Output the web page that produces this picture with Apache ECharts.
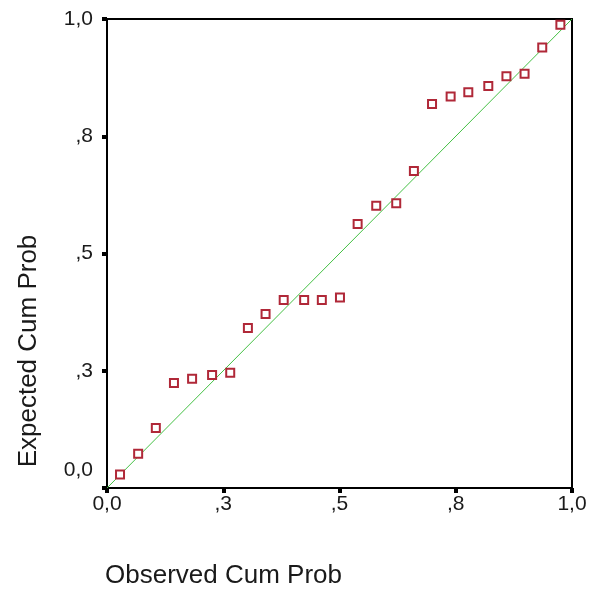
<!DOCTYPE html>
<html>
<head>
<meta charset="utf-8">
<script src="https://cdn.jsdelivr.net/npm/echarts@6/dist/echarts.min.js"></script>
<style>
html,body{margin:0;padding:0;background:#fff;}
#chart{width:590px;height:593px;}
</style>
</head>
<body>
<div id="chart"></div>
<script>
// Observed cumulative probability (x) and expected cumulative probability (y)
var observedCumProb = [0.028, 0.067, 0.105, 0.144, 0.183, 0.226, 0.265, 0.303, 0.341, 0.380, 0.424, 0.462, 0.501,
                       0.539, 0.579, 0.622, 0.660, 0.699, 0.739, 0.777, 0.820, 0.859, 0.898, 0.936, 0.975];
var expectedCumProb = [0.029, 0.073, 0.128, 0.224, 0.233, 0.241, 0.246, 0.341, 0.371, 0.401, 0.401, 0.401, 0.406,
                       0.563, 0.602, 0.607, 0.676, 0.819, 0.835, 0.844, 0.857, 0.878, 0.883, 0.939, 0.988];
var referenceLine = [[0, 0], [1, 1]];
var tickValues = [0, 0.25, 0.5, 0.75, 1];
var tickLabels = ['0,0', ',3', ',5', ',8', '1,0'];
var xTitle = 'Observed Cum Prob';
var yTitle = 'Expected Cum Prob';

function fmt(v) {
  for (var i = 0; i < tickValues.length; i++) {
    if (Math.abs(v - tickValues[i]) < 1e-6) return tickLabels[i];
  }
  return '';
}
function fmtY(v) {
  var s = fmt(v);
  return Math.abs(v) < 1e-6 ? '{lo|' + s + '}' : s;
}

var points = observedCumProb.map(function (x, i) { return [x, expectedCumProb[i]]; });

var chart = echarts.init(document.getElementById('chart'), null, {renderer: 'canvas'});
var labelFont = {fontFamily: 'Liberation Sans, Arial, sans-serif', fontSize: 21, color: '#1a1a1a'};

chart.setOption({
  animation: false,
  backgroundColor: '#ffffff',
  grid: {left: 107, top: 19, right: 18, bottom: 105, show: true, borderColor: '#000', borderWidth: 2, containLabel: false},
  xAxis: {
    type: 'value', min: 0, max: 1, interval: 0.25,
    axisLine: {show: true, onZero: false, lineStyle: {color: '#000', width: 2}},
    axisTick: {show: true, inside: false, length: 5, lineStyle: {color: '#000', width: 4}},
    splitLine: {show: false},
    axisLabel: Object.assign({margin: 6, formatter: fmt, showMinLabel: true, showMaxLabel: true}, labelFont)
  },
  yAxis: {
    type: 'value', min: 0, max: 1, interval: 0.25,
    axisLine: {show: true, onZero: false, lineStyle: {color: '#000', width: 2}},
    axisTick: {show: true, inside: false, length: 5, lineStyle: {color: '#000', width: 4}},
    splitLine: {show: false},
    axisLabel: Object.assign({margin: 14, formatter: fmtY, showMinLabel: true, showMaxLabel: true,
                              verticalAlignMinLabel: 'bottom',
                              rich: {lo: {fontFamily: 'Liberation Sans, Arial, sans-serif', fontSize: 21, color: '#1a1a1a', padding: [0, 0, 7, 0]}}}, labelFont)
  },
  graphic: [
    {type: 'text', left: 105, top: 563, style: {text: xTitle, font: '26px "Liberation Sans", Arial, sans-serif', fill: '#1a1a1a'}},
    {type: 'text', x: 29, y: 351, rotation: Math.PI / 2,
     style: {text: yTitle, font: '26px "Liberation Sans", Arial, sans-serif', fill: '#1a1a1a', textAlign: 'center', textVerticalAlign: 'middle'}}
  ],
  series: [
    {
      type: 'line', data: referenceLine, symbol: 'none', silent: true,
      lineStyle: {color: '#44c044', width: 1}, z: 1
    },
    {
      type: 'scatter', data: points, symbol: 'rect', symbolSize: 8,
      itemStyle: {color: '#ffffff', borderColor: '#b02838', borderWidth: 2, opacity: 1}, z: 2
    }
  ]
});
</script>
</body>
</html>
